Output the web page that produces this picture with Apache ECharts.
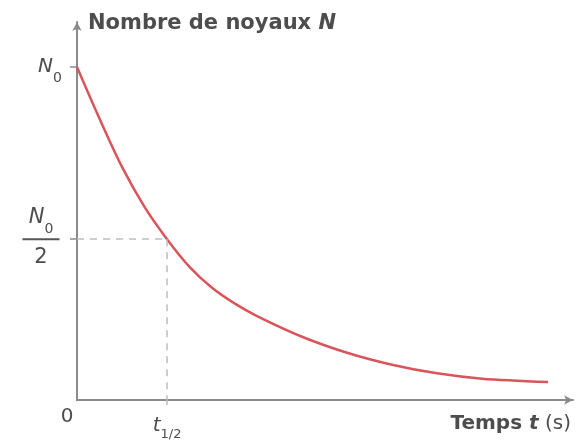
<!DOCTYPE html>
<html>
<head>
<meta charset="utf-8">
<script src="https://cdn.jsdelivr.net/npm/echarts@6/dist/echarts.min.js"></script>
<style>
html,body{margin:0;padding:0;background:#fff;}
#chart{width:583px;height:445px;}
</style>
</head>
<body>
<div id="chart"></div>
<script>
// Time in units of t1/2, N in units of N0
const tValues = [0, 0.25, 0.5, 0.75, 1.0, 1.25, 1.5, 1.75, 2.0, 2.5, 3.0, 3.5, 4.0, 4.5, 5.233];
const nValues = [1.0, 0.845, 0.70, 0.58, 0.483, 0.40, 0.337, 0.29, 0.252, 0.19, 0.142, 0.106, 0.08, 0.064, 0.054];
const yTickValues = [1, 0.483];     // N0, N0/2
const xTickValues = [0, 1];         // 0, t1/2
const tHalf = 1;
const nHalf = 0.483;

const font = 'DejaVu Sans';
const txt = '#4d4d4d';
const axisCol = '#8a8a8a';

const chart = echarts.init(document.getElementById('chart'), null, {renderer: 'canvas'});
chart.setOption({
  animation: false,
  grid: {left: 77, right: 10, top: 22, bottom: 45},
  xAxis: {
    type: 'value', min: 0, max: 5.51,
    name: '{b|Temps }{bi|t}{n| (s)}',
    nameLocation: 'end', nameGap: -2,
    nameTextStyle: {
      align: 'right', verticalAlign: 'top', padding: [14, 0, 0, 0],
      rich: {
        b: {fontFamily: font, fontWeight: 'bold', fontSize: 20, color: txt},
        bi: {fontFamily: font, fontWeight: 'bold', fontStyle: 'italic', fontSize: 20, color: txt},
        n: {fontFamily: font, fontSize: 20, color: txt}
      }
    },
    axisLine: {lineStyle: {color: axisCol, width: 2}, symbol: ['none', 'arrow'], symbolSize: [7, 9]},
    axisTick: {show: true, customValues: [tHalf], length: 5, lineStyle: {color: '#bbb', width: 1.5}},
    splitLine: {show: false},
    axisLabel: {
      customValues: xTickValues, margin: 7,
      formatter: function (v) {
        return v === 0 ? '{z|0}{sp|}' : '{t|t}{s|1/2}';
      },
      rich: {
        z: {fontFamily: font, fontSize: 20, color: txt},
        sp: {width: 20},
        t: {fontFamily: font, fontStyle: 'italic', fontSize: 20, color: txt, verticalAlign: 'top', padding: [9, 0, 0, 0]},
        s: {fontFamily: font, fontSize: 13, color: txt, verticalAlign: 'top', padding: [21, 0, 0, 0]}
      }
    }
  },
  yAxis: {
    type: 'value', min: 0, max: 1.135,
    name: '{b|Nombre de noyaux }{bi|N}',
    nameLocation: 'end', nameGap: 0,
    nameTextStyle: {
      align: 'left', verticalAlign: 'middle', padding: [4, 0, 0, 11],
      rich: {
        b: {fontFamily: font, fontWeight: 'bold', fontSize: 21, color: txt},
        bi: {fontFamily: font, fontWeight: 'bold', fontStyle: 'italic', fontSize: 21, color: txt}
      }
    },
    axisLine: {show: true, lineStyle: {color: axisCol, width: 2}, symbol: ['none', 'arrow'], symbolSize: [7, 9]},
    axisTick: {show: true, customValues: yTickValues, length: 7, lineStyle: {color: axisCol, width: 1.5}},
    splitLine: {show: false},
    axisLabel: {
      customValues: yTickValues, margin: 36, align: 'center',
      formatter: function (v) {
        return v === 1 ? '{sp|}{n0|N}{sub0|0}' : '{nsp|}{n|N}{sub|0}\n{bar|}\n{d|2}';
      },
      rich: {
        sp: {width: 18, height: 40, lineHeight: 40},
        n0: {fontFamily: font, fontStyle: 'italic', fontSize: 20, color: txt, lineHeight: 22, verticalAlign: 'top', padding: [10, 0, 0, 0]},
        sub0: {fontFamily: font, fontSize: 14, color: txt, lineHeight: 14, verticalAlign: 'top', padding: [24, 0, 0, 0]},
        nsp: {width: 0, height: 33, lineHeight: 33},
        n: {fontFamily: font, fontStyle: 'italic', fontSize: 21, color: txt, lineHeight: 22, verticalAlign: 'top', padding: [3, 0, 0, 0]},
        sub: {fontFamily: font, fontSize: 14, color: txt, lineHeight: 14, verticalAlign: 'top', padding: [18, 0, 0, 0]},
        bar: {width: 37, height: 2, backgroundColor: '#555', lineHeight: 4},
        d: {fontFamily: font, fontSize: 21, color: txt, lineHeight: 33}
      }
    }
  },
  series: [{
    type: 'line',
    data: tValues.map((t, i) => [t, nValues[i]]),
    smooth: 0.3,
    showSymbol: false,
    lineStyle: {color: '#d9555c', width: 2.5},
    markLine: {
      silent: true, symbol: 'none', label: {show: false},
      lineStyle: {color: '#bdbdbd', type: [7, 6], width: 1.5},
      data: [
        [{coord: [0, nHalf]}, {coord: [tHalf, nHalf]}],
        [{coord: [tHalf, nHalf]}, {coord: [tHalf, 0]}]
      ]
    },
    z: 3
  }]
});
</script>
</body>
</html>
